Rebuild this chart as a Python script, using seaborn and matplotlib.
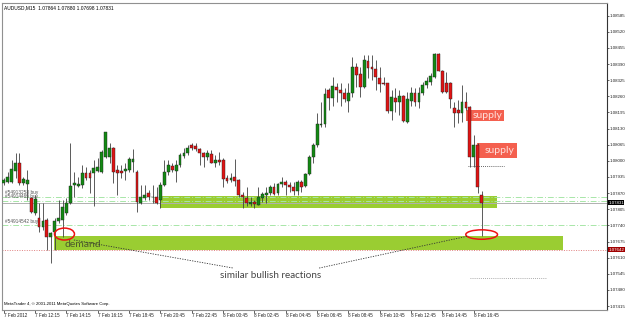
import matplotlib
matplotlib.use("Agg")
import matplotlib.pyplot as plt
import matplotlib.transforms as mtransforms
from matplotlib.patches import Rectangle, Ellipse
import seaborn as sns

# AUDUSD M15 candles (open, high, low, close)
opens = [1.07910, 1.07916, 1.07916, 1.07961, 1.07993, 1.07910, 1.07907, 1.07849, 1.07789, 1.07769,
         1.07735, 1.07762, 1.07695, 1.07715, 1.07759, 1.07762, 1.07789, 1.07829, 1.07903, 1.07900,
         1.07903, 1.07953, 1.07953, 1.07953, 1.07961, 1.07957, 1.08017, 1.08017, 1.08051, 1.07963,
         1.07961, 1.07959, 1.07963, 1.07997, 1.07957, 1.07829, 1.07849, 1.07869, 1.07853, 1.07856,
         1.07842, 1.07903, 1.07957, 1.07979, 1.07961, 1.07983, 1.08020, 1.08030, 1.08064, 1.08060,
         1.08047, 1.08030, 1.08014, 1.08028, 1.07993, 1.08004, 1.08004, 1.07930, 1.07923, 1.07936,
         1.07923, 1.07863, 1.07852, 1.07826, 1.07833, 1.07822, 1.07849, 1.07863, 1.07872, 1.07896,
         1.07872, 1.07906, 1.07916, 1.07903, 1.07893, 1.07880, 1.07916, 1.07899, 1.07947, 1.08017,
         1.08064, 1.08145, 1.08149, 1.08286, 1.08255, 1.08299, 1.08286, 1.08275, 1.08243, 1.08272,
         1.08377, 1.08350, 1.08299, 1.08403, 1.08380, 1.08369, 1.08335, 1.08313, 1.08313, 1.08201,
         1.08255, 1.08239, 1.08262, 1.08158, 1.08243, 1.08272, 1.08239, 1.08272, 1.08306, 1.08319,
         1.08339, 1.08431, 1.08364, 1.08315, 1.08313, 1.08212, 1.08205, 1.08192, 1.08239, 1.08216,
         1.08014, 1.08064, 1.07864]
highs = [1.07930, 1.07957, 1.08004, 1.08030, 1.08030, 1.07936, 1.07963, 1.07856, 1.07863, 1.07829,
         1.07829, 1.07769, 1.07715, 1.07769, 1.07842, 1.07842, 1.07849, 1.08071, 1.07957, 1.07936,
         1.07983, 1.07977, 1.07963, 1.08004, 1.08010, 1.08044, 1.08118, 1.08071, 1.08057, 1.07983,
         1.07983, 1.07990, 1.08017, 1.08047, 1.07963, 1.07903, 1.07903, 1.07883, 1.07903, 1.07896,
         1.07916, 1.08004, 1.08004, 1.07990, 1.08004, 1.08030, 1.08051, 1.08064, 1.08073, 1.08071,
         1.08051, 1.08037, 1.08044, 1.08044, 1.08024, 1.08037, 1.08010, 1.07943, 1.07950, 1.08006,
         1.07926, 1.07876, 1.07893, 1.07856, 1.07842, 1.07896, 1.07876, 1.07896, 1.07903, 1.07910,
         1.07910, 1.07936, 1.07923, 1.07916, 1.07916, 1.07923, 1.07923, 1.07950, 1.08024, 1.08073,
         1.08192, 1.08239, 1.08292, 1.08292, 1.08339, 1.08313, 1.08313, 1.08292, 1.08313, 1.08417,
         1.08393, 1.08380, 1.08427, 1.08427, 1.08427, 1.08407, 1.08380, 1.08339, 1.08315, 1.08286,
         1.08292, 1.08286, 1.08266, 1.08279, 1.08299, 1.08292, 1.08299, 1.08319, 1.08339, 1.08353,
         1.08433, 1.08433, 1.08366, 1.08356, 1.08319, 1.08239, 1.08245, 1.08306, 1.08279, 1.08221,
         1.08104, 1.08071, 1.07880]
lows = [1.07903, 1.07910, 1.07910, 1.07930, 1.07903, 1.07903, 1.07842, 1.07789, 1.07782, 1.07715,
        1.07722, 1.07641, 1.07590, 1.07641, 1.07748, 1.07695, 1.07782, 1.07826, 1.07856, 1.07896,
        1.07889, 1.07923, 1.07869, 1.07818, 1.07957, 1.07950, 1.08010, 1.07990, 1.07910, 1.07863,
        1.07930, 1.07923, 1.07957, 1.07957, 1.07795, 1.07826, 1.07842, 1.07842, 1.07829, 1.07826,
        1.07809, 1.07899, 1.07943, 1.07957, 1.07916, 1.07977, 1.08010, 1.08024, 1.08044, 1.08041,
        1.07983, 1.07977, 1.08004, 1.07990, 1.07977, 1.07983, 1.07896, 1.07910, 1.07916, 1.07899,
        1.07856, 1.07809, 1.07818, 1.07818, 1.07809, 1.07821, 1.07836, 1.07829, 1.07863, 1.07863,
        1.07863, 1.07896, 1.07863, 1.07876, 1.07863, 1.07863, 1.07876, 1.07893, 1.07943, 1.07990,
        1.08057, 1.08138, 1.08138, 1.08205, 1.08219, 1.08239, 1.08219, 1.08239, 1.08198, 1.08259,
        1.08299, 1.08259, 1.08292, 1.08333, 1.08326, 1.08286, 1.08279, 1.08306, 1.08192, 1.08165,
        1.08198, 1.08185, 1.08158, 1.08151, 1.08219, 1.08219, 1.08212, 1.08266, 1.08292, 1.08306,
        1.08333, 1.08360, 1.08272, 1.08272, 1.08212, 1.08138, 1.08151, 1.08158, 1.08205, 1.07977,
        1.07977, 1.07869, 1.07698]
closes = [1.07923, 1.07936, 1.07966, 1.07993, 1.07912, 1.07927, 1.07923, 1.07795, 1.07845, 1.07735,
          1.07759, 1.07695, 1.07708, 1.07759, 1.07769, 1.07816, 1.07829, 1.07899, 1.07910, 1.07906,
          1.07953, 1.07930, 1.07930, 1.07970, 1.07977, 1.08037, 1.08115, 1.08051, 1.07957, 1.07950,
          1.07950, 1.07966, 1.08006, 1.08006, 1.07836, 1.07856, 1.07863, 1.07856, 1.07856, 1.07829,
          1.07903, 1.07957, 1.07983, 1.07963, 1.07983, 1.08024, 1.08030, 1.08051, 1.08051, 1.08047,
          1.08030, 1.08014, 1.08030, 1.07993, 1.08004, 1.07997, 1.07926, 1.07920, 1.07932, 1.07920,
          1.07863, 1.07853, 1.07829, 1.07836, 1.07825, 1.07856, 1.07865, 1.07872, 1.07893, 1.07867,
          1.07906, 1.07915, 1.07903, 1.07893, 1.07880, 1.07916, 1.07896, 1.07947, 1.08014, 1.08064,
          1.08149, 1.08147, 1.08268, 1.08255, 1.08302, 1.08286, 1.08275, 1.08248, 1.08272, 1.08377,
          1.08346, 1.08299, 1.08407, 1.08376, 1.08369, 1.08339, 1.08310, 1.08311, 1.08201, 1.08259,
          1.08239, 1.08262, 1.08162, 1.08249, 1.08272, 1.08239, 1.08272, 1.08306, 1.08323, 1.08342,
          1.08431, 1.08364, 1.08279, 1.08279, 1.08248, 1.08192, 1.08192, 1.08239, 1.08212, 1.08014,
          1.08064, 1.07896, 1.07831]

time_ticks = [0, 8, 16, 24, 32, 40, 48, 56, 64, 72, 80, 88, 96, 104, 112, 120]
time_labels = ["7 Feb 2012", "7 Feb 12:15", "7 Feb 14:15", "7 Feb 16:15", "7 Feb 18:45",
               "7 Feb 20:45", "7 Feb 22:45", "8 Feb 00:45", "8 Feb 02:45", "8 Feb 04:45",
               "8 Feb 06:45", "8 Feb 08:45", "8 Feb 10:45", "8 Feb 12:45", "8 Feb 14:45",
               "8 Feb 16:45"]
price_ticks = [1.08585, 1.08520, 1.08455, 1.08390, 1.08325, 1.08260, 1.08195, 1.08130, 1.08065,
               1.08000, 1.07935, 1.07870, 1.07805, 1.07740, 1.07675, 1.07610, 1.07545, 1.07480,
               1.07415]

# zones drawn on the chart (start bar, end bar, low, high)
demand_zone = (12.8, 142.8, 1.07642, 1.07697)
buy_zone = (39.8, 125.8, 1.07810, 1.07858)
supply_zones = [(117.9, 127.8, 1.08161, 1.08205), (120.9, 130.9, 1.08012, 1.08072)]
order_lines = [1.07856, 1.07840, 1.07742]
order_names = ["#54913258 buy", "#54914469 buy", "#54914542 buy"]
bid_price = 1.07831
low_line = 1.07642

sns.set_theme(style="white")
small = ['Liberation Sans', 'DejaVu Sans']
plt.rcParams['font.family'] = small

fig = plt.figure(figsize=(6.25, 3.17), dpi=100)
ax = fig.add_axes([2 / 625, 7 / 317, 605 / 625, 307 / 317])
ax.set_xlim(-0.45, 154)
ax.set_ylim(1.07399, 1.08636)

# zones first, candles on top
x0, x1, lo, hi = demand_zone
ax.add_patch(Rectangle((x0, lo), x1 - x0, hi - lo, color="#9acd32", lw=0, zorder=1))
x0, x1, lo, hi = buy_zone
ax.add_patch(Rectangle((x0, lo), x1 - x0, hi - lo, color="#9acd32", lw=0, zorder=1))
for x0, x1, lo, hi in supply_zones:
    ax.add_patch(Rectangle((x0, lo), x1 - x0, hi - lo, color="#f4604f", lw=0, zorder=1))
    ax.text(x0 + 1.8, (lo + hi) / 2, "supply", fontsize=7.5, color="#ffe0dc",
            family="Lato", va="center", ha="left", zorder=5)

for p in order_lines:
    ax.axhline(p, color="#a8e6a8", lw=0.7, ls=(0, (6, 2, 1, 2)), zorder=2)
for p, name in zip(order_lines, order_names):
    ax.text(0.3, p + 0.00005, name, fontsize=3.4, color="#555555", va="bottom",
            family=small, zorder=6)
ax.axhline(bid_price, color="#b0b0b0", lw=0.7, zorder=2)
ax.axhline(low_line, color="#e08080", lw=0.7, ls=(0, (1, 1.5)), zorder=2)

# candles
n = len(opens)
for i in range(n):
    o, h, l, c = opens[i], highs[i], lows[i], closes[i]
    ax.vlines(i, l, h, color="#404040", lw=0.6, zorder=3)
    col = "#138a13" if c >= o else "#e01414"
    body = max(abs(c - o), 0.00002)
    ax.add_patch(Rectangle((i - 0.36, min(o, c)), 0.72, body, facecolor=col,
                           edgecolor="#202020", lw=0.3, zorder=4))

# annotations
ax.add_patch(Ellipse((15.5, 1.07705), 5.1, 0.00048, fill=False, ec="#ee1111", lw=1.1, zorder=6))
ax.add_patch(Ellipse((122.0, 1.07703), 8.1, 0.00038, fill=False, ec="#ee1111", lw=1.1, zorder=6))
ax.text(15.4, 1.07662, "demand", fontsize=7.5, color="#4d5a2c", family="Lato", va="center", zorder=6)
ax.plot([17.9, 58.6], [1.07681, 1.07568], color="#333333", lw=0.6, ls=(0, (1.5, 1.5)), zorder=6)
ax.plot([80.5, 118.6], [1.07568, 1.07697], color="#333333", lw=0.6, ls=(0, (1.5, 1.5)), zorder=6)
ax.text(55.3, 1.07536, "similar bullish reactions", fontsize=7.1, color="#444444",
        family="Lato", va="center", zorder=6)
ax.plot([118.6, 127.6], [1.07979, 1.07979], color="#333333", lw=0.6, ls=(0, (1, 1.5)), zorder=6)
ax.plot([118.9, 138.8], [1.07528, 1.07528], color="#909090", lw=0.6, ls=(0, (1, 1.5)), zorder=6)

ax.text(0.004, 0.993, "AUDUSD,M15  1.07864 1.07880 1.07698 1.07831", transform=ax.transAxes,
        fontsize=3.5, va="top", ha="left", color="black", family=small)
ax.text(0.003, 0.012, "MetaTrader 4, \u00a9 2001-2011 MetaQuotes Software Corp.", transform=ax.transAxes,
        fontsize=3.1, va="bottom", ha="left", color="black", family=small)

# axes
ax.yaxis.tick_right()
ax.set_yticks(price_ticks)
ax.set_yticklabels([f"{p:.5f}" for p in price_ticks], fontsize=3.2, color="#222222", family=small)
ax.set_xticks(time_ticks)
ax.set_xticklabels(time_labels, fontsize=3.3, color="#222222", ha="left", family=small)
ax.tick_params(axis="y", length=1.2, width=0.5, pad=0.4, right=True, left=False, colors="#222222")
ax.tick_params(axis="x", length=2, width=0.5, pad=0.5, bottom=True, colors="#222222")
for side in ["left", "top", "bottom"]:
    ax.spines[side].set_color("#909090")
    ax.spines[side].set_linewidth(0.8)
ax.spines["right"].set_color("#333333")
ax.spines["right"].set_linewidth(0.8)
ax.grid(False)

trans = mtransforms.blended_transform_factory(ax.transAxes, ax.transData)
ax.text(1.002, bid_price, f"{bid_price:.5f}", transform=trans, fontsize=3.2, color="white",
        va="center", ha="left", clip_on=False, family=small,
        bbox=dict(boxstyle="square,pad=0.1", fc="black", ec="none"))
ax.text(1.002, low_line, f"{low_line:.5f}", transform=trans, fontsize=3.2, color="white",
        va="center", ha="left", clip_on=False, family=small,
        bbox=dict(boxstyle="square,pad=0.1", fc="#a00000", ec="none"))

fig.savefig("out.png", dpi=100, facecolor="white")
